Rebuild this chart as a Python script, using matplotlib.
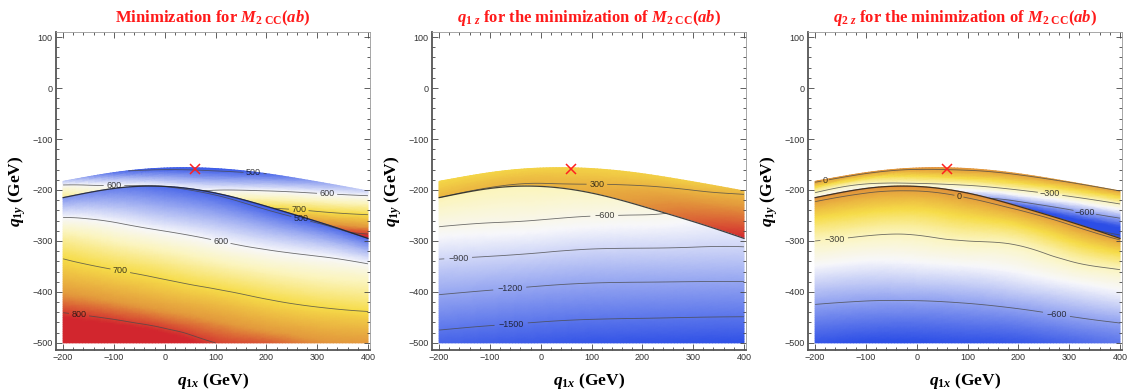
import numpy as np
import matplotlib
matplotlib.use("Agg")
import matplotlib.pyplot as plt
import matplotlib.tri as mtri
from matplotlib.colors import LinearSegmentedColormap, Normalize
from matplotlib.ticker import MultipleLocator

plt.rcParams["mathtext.fontset"] = "custom"
plt.rcParams["mathtext.it"] = "Liberation Serif:italic:bold"
plt.rcParams["mathtext.rm"] = "Liberation Serif:bold"
plt.rcParams["mathtext.bf"] = "Liberation Serif:bold"
plt.rcParams["contour.negative_linestyle"] = "solid"

# q1x columns (GeV) and the edges of the allowed region (q1y, GeV)
q1x = [-200, -100, 0, 100, 200, 300, 400]
top_edge = [-183, -166, -157, -158, -168, -184, -202]
fold_edge = [-215, -197, -193, -206, -232, -262, -295]
bottom_edge = -500
minimum = (60, -158)

# values on the upper band: rows = top edge, middle, fold
# values on the lower branch: rows = fold, 1/4, 1/2, 3/4, bottom
m2cc_upper = [
    [570, 510, 490, 490, 500, 540, 575],
    [630, 570, 545, 550, 595, 645, 700],
    [660, 615, 600, 610, 690, 760, 820],
]
m2cc_lower = [
    [530, 515, 500, 495, 490, 495, 500],
    [647, 611, 588, 580, 580, 590, 602],
    [721, 692, 670, 655, 650, 650, 657],
    [789, 770, 750, 735, 720, 712, 712],
    [850, 845, 830, 800, 790, 770, 765],
]
q1z_upper = [
    [120, 130, 140, 150, 160, 170, 260],
    [210, 230, 250, 270, 350, 450, 550],
    [300, 310, 330, 360, 480, 650, 850],
]
q1z_lower = [
    [-300, -320, -330, -400, -520, -700, -830],
    [-670, -637, -650, -730, -830, -940, -1050],
    [-995, -984, -1010, -1070, -1135, -1205, -1280],
    [-1300, -1320, -1350, -1385, -1420, -1460, -1500],
    [-1610, -1645, -1670, -1700, -1710, -1720, -1730],
]
q2z_upper = [
    [30, 30, 30, 30, 20, 10, 0],
    [-220, -220, -170, -200, -300, -420, -530],
    [-400, -420, -350, -480, -750, -850, -950],
]
q2z_lower = [
    [40, 40, 40, 40, 40, 30, 20],
    [-260, -250, -250, -240, -270, -240, -260],
    [-440, -440, -430, -430, -430, -420, -420],
    [-610, -615, -615, -610, -600, -580, -565],
    [-760, -780, -780, -770, -760, -730, -690],
]

temp_colors = ["#2c4ee6", "#f7f7fb", "#fbf5c0", "#f6dc48", "#e39a3c", "#d2262e"]

panels = [
    dict(title=r"Minimization for $M_{2\ \mathrm{CC}}(ab)$",
         upper=m2cc_upper, lower=m2cc_lower,
         anchors=[480, 600, 640, 700, 765, 810],
         lv_up=[500, 600, 700, 800], lv_lo=[500, 600, 700, 800]),
    dict(title=r"$q_{1\ z}$ for the minimization of $M_{2\ \mathrm{CC}}(ab)$",
         upper=q1z_upper, lower=q1z_lower,
         anchors=[-1750, -700, -350, 100, 450, 850],
         lv_up=[300], lv_lo=[-1500, -1200, -900, -600, -300]),
    dict(title=r"$q_{2\ z}$ for the minimization of $M_{2\ \mathrm{CC}}(ab)$",
         upper=q2z_upper, lower=q2z_lower,
         anchors=[-780, -420, -300, -150, 20, 200],
         lv_up=[-900, -600, -300, 0], lv_lo=[-600, -300, 0]),
]


def branch_mesh(rows_y, values, subdiv=4):
    ny, nx = np.shape(values)
    u, v = np.meshgrid(np.arange(nx), np.arange(ny))
    tris = []
    for j in range(ny - 1):
        for i in range(nx - 1):
            a = j * nx + i
            tris.append([a, a + 1, a + nx])
            tris.append([a + 1, a + nx + 1, a + nx])
    grid = mtri.Triangulation(u.ravel().astype(float), v.ravel().astype(float), tris)
    refiner = mtri.UniformTriRefiner(grid)
    X = np.broadcast_to(np.asarray(q1x, float), (ny, nx))
    fine, xr = refiner.refine_field(X.ravel(), subdiv=subdiv)
    _, yr = refiner.refine_field(np.ravel(rows_y).astype(float), subdiv=subdiv)
    _, zr = refiner.refine_field(np.ravel(values).astype(float), subdiv=subdiv)
    phys = mtri.Triangulation(xr, yr, fine.triangles)
    return fine, phys, zr


def fmt(v):
    return f"{v:.0f}".replace("-", "\u2212")


top = np.asarray(top_edge, float)
fold = np.asarray(fold_edge, float)
upper_rows = np.array([top, (top + fold) / 2, fold])
lower_rows = np.array([fold + s * (bottom_edge - fold) for s in (0, 0.25, 0.5, 0.75, 1)])

fig = plt.figure(figsize=(11.32, 3.9), dpi=100)

for k, p in enumerate(panels):
    ax = fig.add_axes([(56 + 376 * k) / 1132, 40 / 390, 314 / 1132, 318 / 390])
    a = p["anchors"]
    pos = [(v - a[0]) / (a[-1] - a[0]) for v in a]
    cmap = LinearSegmentedColormap.from_list(f"temp{k}", list(zip(pos, temp_colors)))
    norm = Normalize(a[0], a[-1])

    fold_line = None
    for rows_y, vals, lv in [(upper_rows, p["upper"], p["lv_up"]),
                             (lower_rows, p["lower"], p["lv_lo"])]:
        fine, phys, z = branch_mesh(rows_y, vals)
        ax.tripcolor(phys, z, shading="gouraud", cmap=cmap, norm=norm, rasterized=True)
        cs = ax.tricontour(phys, z, levels=lv, colors="#4a4a4a", linewidths=0.6, alpha=0.8)
        labels = ax.clabel(cs, fmt=fmt, fontsize=6.5, inline=True, inline_spacing=2,
                           colors="#111111")
        for t in labels:
            t.set_rotation(0)
            t.set_family("Liberation Sans")
        if rows_y is lower_rows:
            m = fine.y == 0
            order = np.argsort(phys.x[m])
            fold_line = (phys.x[m][order], phys.y[m][order])
    ax.plot(*fold_line, color="#222222", lw=0.9, alpha=0.85)
    ax.plot(*minimum, marker="x", color="#ff2020", ms=7, mew=1.1, ls="none")

    ax.set_xlim(-214, 404)
    ax.set_ylim(-514, 110)
    ax.xaxis.set_major_locator(MultipleLocator(100))
    ax.xaxis.set_minor_locator(MultipleLocator(20))
    ax.yaxis.set_major_locator(MultipleLocator(100))
    ax.yaxis.set_minor_locator(MultipleLocator(20))
    ax.tick_params(which="both", direction="in", top=True, right=True,
                   labelsize=6.5, labelcolor="#333333", color="#444444", width=0.6)
    ax.tick_params(which="major", length=4, pad=2.5)
    ax.tick_params(which="minor", length=2)
    ax.xaxis.set_major_formatter(plt.FuncFormatter(lambda v, _: fmt(v)))
    ax.yaxis.set_major_formatter(plt.FuncFormatter(lambda v, _: fmt(v)))
    for lab in ax.get_xticklabels() + ax.get_yticklabels():
        lab.set_family("Liberation Sans")
    for side in ("left", "bottom"):
        ax.spines[side].set_linewidth(1.3)
        ax.spines[side].set_color("#555555")
    for side in ("top", "right"):
        ax.spines[side].set_linewidth(0.6)
        ax.spines[side].set_color("#999999")

    ax.set_xlabel(r"$q_{\mathit{1x}}$ (GeV)", fontsize=12.5, family="Liberation Serif",
                  weight="bold")
    ax.set_ylabel(r"$q_{\mathit{1y}}$ (GeV)", fontsize=12.5, family="Liberation Serif",
                  weight="bold")
    ax.xaxis.set_label_coords(0.5, -0.065)
    ax.yaxis.set_label_coords(-0.088, 0.5)
    ax.set_title(p["title"], color="#ff1a1a", fontsize=12, family="Liberation Serif",
                 weight="bold", pad=7)

fig.savefig("out.png", dpi=100)
